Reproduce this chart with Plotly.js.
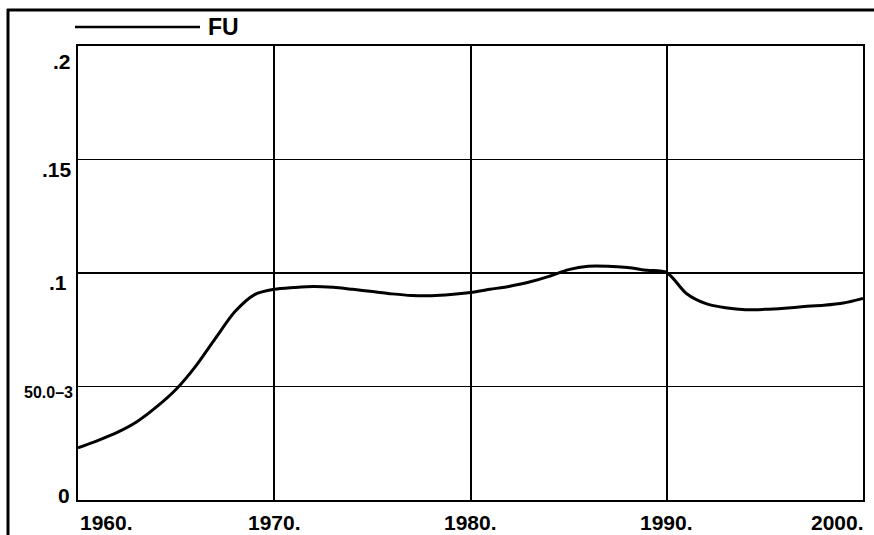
<!DOCTYPE html>
<html>
<head>
<meta charset="utf-8">
<script src="https://cdn.plot.ly/plotly-3.0.1.min.js"></script>
<style>html,body{margin:0;padding:0;background:#fff;}#chart{width:874px;height:535px;}</style>
</head>
<body>
<div id="chart"></div>
<script>
// ---- data ----
var seriesName = "FU";
var years = [1960,1961,1962,1963,1964,1965,1966,1967,1968,1969,
             1970,1971,1972,1973,1974,1975,1976,1977,1978,1979,
             1980,1981,1982,1983,1984,1985,1986,1987,1988,1989,
             1990,1991,1992,1993,1994,1995,1996,1997,1998,1999,2000];
var fuValues = [0.0230,0.0262,0.0298,0.0345,0.0410,0.0488,0.0590,0.0712,0.0830,0.0905,
                0.0928,0.0936,0.0941,0.0937,0.0928,0.0918,0.0908,0.0901,0.0900,0.0905,
                0.0914,0.0928,0.0942,0.0960,0.0985,0.1015,0.1030,0.1030,0.1024,0.1012,
                0.1002,0.0910,0.0865,0.0847,0.0838,0.0840,0.0845,0.0852,0.0858,0.0868,0.0888];
var xTickVals = [1960,1970,1980,1990,2000];
var xTickText = ["1960.","1970.","1980.","1990.","2000."];
var yTickVals = [0.2,0.15,0.1,0.05,0];
var yTickText = [".2",".15",".1","50.0\u20133","0"];

// ---- layout constants ----
var W = 874, H = 535;
var M = {l:78, r:11, t:46, b:35};
var PW = W - M.l - M.r, PH = H - M.t - M.b;
function px2paperX(px){ return (px - M.l) / PW; }
function px2paperY(py){ return (H - M.b - py) / PH; }

var FONT = "Liberation Sans, Arial, sans-serif";
var xAnchors = ["left","center","center","center","right"];
var yShifts = [-15,-10,-9,-6,5];
var yXShifts = [-5,-4,-9,-3,-6];
var ySizes = [21,21,21,16,21];

var annotations = [];
xTickVals.forEach(function(v,i){
  annotations.push({xref:"x", yref:"paper", x:v, y:px2paperY(522), text:xTickText[i],
    showarrow:false, xanchor:xAnchors[i], yanchor:"middle", xshift:(i===4?3:0),
    font:{family:FONT, size:21, color:"#000", weight:"bold"}});
});
yTickVals.forEach(function(v,i){
  annotations.push({xref:"paper", yref:"y", x:0, y:v, text:yTickText[i],
    showarrow:false, xanchor:"right", yanchor:"middle", xshift:yXShifts[i], yshift:yShifts[i],
    font:{family:FONT, size:ySizes[i], color:"#000", weight:"bold"}});
});
annotations.push({xref:"paper", yref:"paper", x:px2paperX(206), y:px2paperY(27), text:seriesName,
  showarrow:false, xanchor:"left", yanchor:"middle",
  font:{family:FONT, size:23, color:"#000", weight:"bold"}});

var shapes = [
  // outer frame: left and top
  {type:"line", xref:"paper", yref:"paper", x0:px2paperX(8), x1:px2paperX(8), y0:px2paperY(9), y1:px2paperY(535), line:{color:"#000", width:3}},
  {type:"line", xref:"paper", yref:"paper", x0:px2paperX(7), x1:px2paperX(874), y0:px2paperY(10), y1:px2paperY(10), line:{color:"#000", width:3}},
  // legend sample line
  {type:"line", xref:"paper", yref:"paper", x0:px2paperX(75), x1:px2paperX(200), y0:px2paperY(27), y1:px2paperY(27), line:{color:"#000", width:2.5}}
];

var trace = {
  x: years, y: fuValues, type:"scatter", mode:"lines", name: seriesName,
  line:{color:"#000", width:3, shape:"spline", smoothing:0.8},
  showlegend:false, hoverinfo:"x+y"
};

var layout = {
  width:W, height:H,
  margin:M,
  paper_bgcolor:"#fff", plot_bgcolor:"#fff",
  showlegend:false,
  xaxis:{range:[1960,2000], tickvals:xTickVals, showticklabels:false, ticks:"",
    showgrid:true, gridcolor:"#000", gridwidth:2, zeroline:false,
    showline:true, linecolor:"#000", linewidth:2, mirror:true},
  yaxis:{range:[0,0.2], tickvals:yTickVals, showticklabels:false, ticks:"",
    showgrid:true, gridcolor:"#000", gridwidth:1.5, zeroline:false,
    showline:true, linecolor:"#000", linewidth:2, mirror:true},
  annotations:annotations,
  shapes:shapes
};

Plotly.newPlot("chart", [trace], layout, {displayModeBar:false, staticPlot:true});
</script>
</body>
</html>
